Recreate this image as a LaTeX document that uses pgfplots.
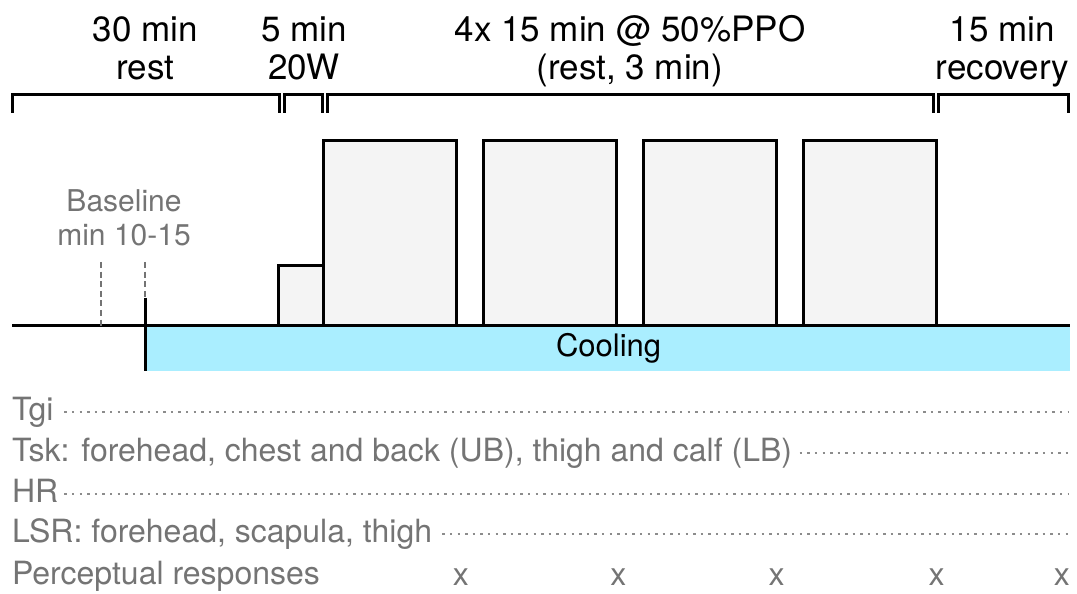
\documentclass[border=0pt]{standalone}
\usepackage{pgfplots}
\pgfplotsset{compat=1.18}
\usepackage{fontspec}
\setmainfont{TeX Gyre Heros}
\definecolor{txtgray}{HTML}{747474}
\definecolor{dotgray}{HTML}{8C8C8C}
\definecolor{blockfill}{HTML}{F4F4F4}
\definecolor{coolfill}{HTML}{AAEEFF}
\newcommand{\topfont}{\fontsize{17.5}{19}\selectfont}
\newcommand{\rowfont}{\fontsize{16}{18}\selectfont}
\newcommand{\basefont}{\fontsize{15}{17}\selectfont}
\tikzset{lbl/.style={inner sep=0pt, outer sep=0pt}}
\begin{document}
\begin{tikzpicture}
\begin{axis}[
  scale only axis, width=538.5pt, height=297pt,
  xmin=-1.35, xmax=119.79, ymin=-268, ymax=326,
  hide axis, clip=false,
]
\path (rel axis cs:0,0) rectangle (rel axis cs:1,1);
% cooling band
\addplot[draw=none, fill=coolfill] coordinates {(15,0) (15,-45) (119,-45) (119,0) (15,0)};
% 20 W warm-up
\addplot[draw=black, line width=1.5pt, fill=blockfill] coordinates {(30,0) (30,60) (35,60) (35,0)};
% 4 x 15 min blocks at 50% PPO
\addplot[draw=black, line width=1.5pt, fill=blockfill] coordinates {(35,0) (35,185) (50,185) (50,0)};
\addplot[draw=black, line width=1.5pt, fill=blockfill] coordinates {(53,0) (53,185) (68,185) (68,0)};
\addplot[draw=black, line width=1.5pt, fill=blockfill] coordinates {(71,0) (71,185) (86,185) (86,0)};
\addplot[draw=black, line width=1.5pt, fill=blockfill] coordinates {(89,0) (89,185) (104,185) (104,0)};
% baseline
\addplot[black, line width=1.5pt] coordinates {(0,0) (119,0)};
% baseline markers
\addplot[txtgray, line width=1.1pt, dash pattern=on 3pt off 1.8pt] coordinates {(10,64) (10,0)};
\addplot[txtgray, line width=1.1pt, dash pattern=on 3pt off 1.8pt] coordinates {(15,64) (15,28)};
\addplot[black, line width=1.5pt] coordinates {(15,28) (15,-45)};
% brackets
\addplot[black, line width=1.5pt] coordinates {(0.1,213) (0.1,231) (30.1,231) (30.1,213)};
\addplot[black, line width=1.5pt] coordinates {(30.6,213) (30.6,231) (34.9,231) (34.9,213)};
\addplot[black, line width=1.5pt] coordinates {(35.5,213) (35.5,231) (103.6,231) (103.6,213)};
\addplot[black, line width=1.5pt] coordinates {(104.2,213) (104.2,231) (118.8,231) (118.8,213)};
% measurement rows (dotted)
\addplot[dotgray, line width=1.2pt, dash pattern=on 1.2pt off 2.6pt] coordinates {(5.9,-86) (118.8,-86)};
\addplot[dotgray, line width=1.2pt, dash pattern=on 1.2pt off 2.6pt] coordinates {(88.6,-127) (118.8,-127)};
\addplot[dotgray, line width=1.2pt, dash pattern=on 1.2pt off 2.6pt] coordinates {(5.9,-168) (118.8,-168)};
\addplot[dotgray, line width=1.2pt, dash pattern=on 1.2pt off 2.6pt] coordinates {(48.4,-208) (118.8,-208)};
% perceptual responses
\addplot[txtgray, only marks, mark=text, text mark={x}, text mark as node=true,
  text mark style={font=\rowfont, text=txtgray, inner sep=0pt}]
  coordinates {(50.5,-251) (68.2,-251) (86,-251) (104,-251) (118.1,-251)};
% top labels
\node[lbl, anchor=base, font=\topfont] at (axis cs:15,284) {30 min};
\node[lbl, anchor=base, font=\topfont] at (axis cs:15,246) {rest};
\node[lbl, anchor=base, font=\topfont] at (axis cs:32.85,284) {5 min};
\node[lbl, anchor=base, font=\topfont] at (axis cs:32.85,246) {20W};
\node[lbl, anchor=base, font=\topfont] at (axis cs:69.5,284) {4x 15 min @ 50\%PPO};
\node[lbl, anchor=base, font=\topfont] at (axis cs:69.5,246) {(rest, 3 min)};
\node[lbl, anchor=base, font=\topfont] at (axis cs:111.4,284) {15 min};
\node[lbl, anchor=base, font=\topfont] at (axis cs:111.4,246) {recovery};
% baseline label
\node[lbl, anchor=base, font=\basefont, text=txtgray] at (axis cs:12.6,114) {Baseline};
\node[lbl, anchor=base, font=\basefont, text=txtgray] at (axis cs:12.6,80) {min 10-15};
% cooling
\node[lbl, anchor=base, font=\fontsize{15.5}{17}\selectfont] at (axis cs:67.1,-31) {Cooling};
% rows
\node[lbl, anchor=base west, font=\rowfont, text=txtgray] at (axis cs:0,-95) {Tgi};
\node[lbl, anchor=base west, font=\rowfont, text=txtgray] at (axis cs:0,-136) {Tsk: forehead, chest and back (UB), thigh and calf (LB)};
\node[lbl, anchor=base west, font=\rowfont, text=txtgray] at (axis cs:0,-177) {HR};
\node[lbl, anchor=base west, font=\rowfont, text=txtgray] at (axis cs:0,-217) {LSR: forehead, scapula, thigh};
\node[lbl, anchor=base west, font=\rowfont, text=txtgray] at (axis cs:0,-259) {Perceptual responses};
\end{axis}
\end{tikzpicture}
\end{document}
